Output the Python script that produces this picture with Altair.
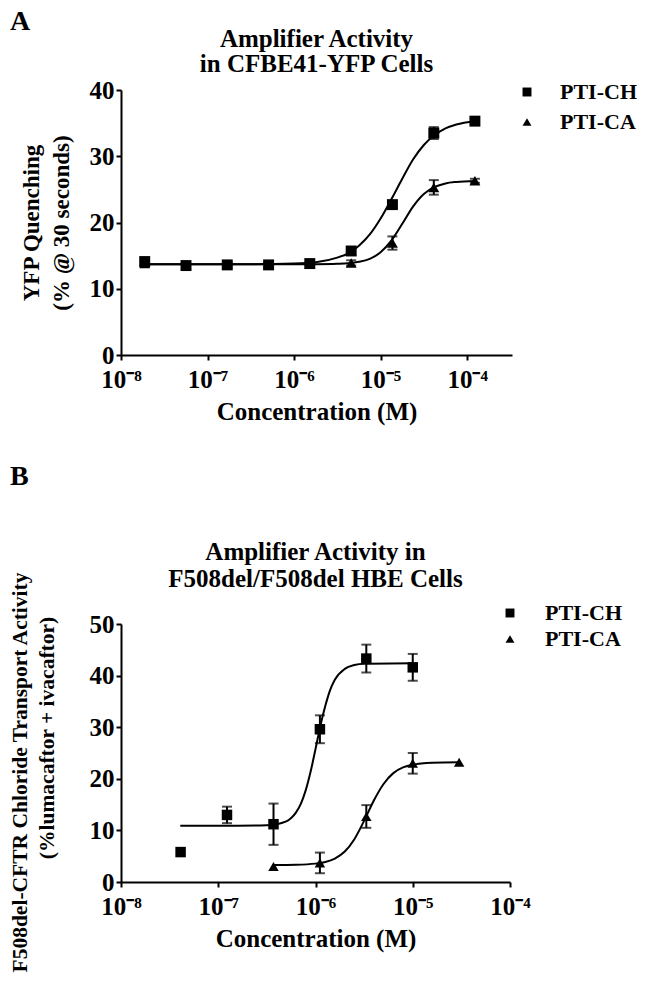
import altair as alt
import pandas as pd

FONT = "Liberation Serif"

series = ["PTI-CH", "PTI-CA"]
shapes = ["square", "triangle-up"]
x_ticks = [1e-8, 1e-7, 1e-6, 1e-5, 1e-4]
x_tick_labels = ["10⁻⁸", "10⁻⁷", "10⁻⁶", "10⁻⁵", "10⁻⁴"]

# ---------------- Panel A (CFBE41-YFP) ----------------
a_conc = [1.88e-8, 5.64e-8, 1.69e-7, 5.08e-7, 1.52e-6, 4.57e-6, 1.37e-5, 4.12e-5, 1.23e-4]
a_ch = [14.1, 13.5, 13.6, 13.6, 13.8, 15.7, 22.7, 33.5, 35.3]
a_ch_err = [0.6, 0.3, 0.3, 0.3, 0.3, 0.6, 0.5, 0.9, 0.4]
a_ca = [13.8, 13.6, 13.7, 13.6, 13.7, 13.9, 16.9, 25.3, 26.3]
a_ca_err = [0.3, 0.3, 0.3, 0.3, 0.3, 0.4, 1.0, 1.1, 0.3]

a_curve_x = [1.86e-8, 1e-7, 3.16e-7, 1e-6, 1.78e-6, 3.16e-6, 4.22e-6, 5.62e-6, 7.5e-6,
             1e-5, 1.33e-5, 1.78e-5, 2.37e-5, 3.16e-5, 4.22e-5, 5.62e-5, 7.5e-5, 1.23e-4]
a_ch_curve = [13.7, 13.7, 13.7, 13.8, 14.0, 14.7, 15.35, 16.5, 18.2,
              20.6, 23.5, 26.6, 29.5, 31.7, 33.2, 34.2, 34.8, 35.3]
a_ca_curve = [13.7, 13.7, 13.7, 13.7, 13.71, 13.77, 13.85, 14.06, 14.52,
              15.5, 17.25, 19.8, 22.4, 24.3, 25.37, 25.9, 26.12, 26.26]

# ---------------- Panel B (HBE) ----------------
b_conc = [4.1e-8, 1.23e-7, 3.7e-7, 1.11e-6, 3.33e-6, 1.0e-5, 3.0e-5]
b_ch = [5.8, 13.0, 11.2, 29.6, 43.3, 41.6]
b_ch_err = [0.0, 1.6, 4.0, 2.7, 2.7, 2.6]
b_ca = [3.0, 3.7, 12.7, 23.0, 23.2]
b_ca_err = [0.0, 2.0, 2.2, 2.0, 0.0]

b_ch_curve_x = [4.07e-8, 1e-7, 3.16e-7, 5.01e-7, 5.62e-7, 6.31e-7, 7.08e-7, 7.94e-7, 8.91e-7,
                1e-6, 1.12e-6, 1.26e-6, 1.41e-6, 1.58e-6, 2.0e-6, 2.51e-6, 3.16e-6, 1e-5]
b_ch_curve = [10.9, 10.9, 11.0, 11.76, 12.4, 13.5, 15.2, 17.8, 21.4,
              25.75, 30.2, 34.1, 37.15, 39.2, 41.3, 42.05, 42.3, 42.4]
b_ca_curve_x = [3.7e-7, 6.31e-7, 1e-6, 1.26e-6, 1.58e-6, 2.0e-6, 2.51e-6, 3.16e-6,
                3.98e-6, 5.01e-6, 6.31e-6, 7.94e-6, 1e-5, 1.58e-5, 3.0e-5]
b_ca_curve = [3.3, 3.35, 3.56, 3.88, 4.55, 5.9, 8.3, 11.85,
              15.8, 19.0, 21.1, 22.2, 22.74, 23.1, 23.2]


def label_expr():
    parts = []
    for t, lab in zip(x_ticks, x_tick_labels):
        parts.append(f"datum.value < {t * 3} ? '{lab}' : ")
    return "".join(parts) + "''"


def points_df(conc, ch, ch_err, ca, ca_err, ca_offset):
    rows = []
    for c, v, e in zip(conc, ch, ch_err):
        rows.append({"conc": c, "val": v, "err": e, "series": "PTI-CH"})
    for c, v, e in zip(conc[ca_offset:], ca, ca_err):
        rows.append({"conc": c, "val": v, "err": e, "series": "PTI-CA"})
    df = pd.DataFrame(rows)
    df["lo"] = df["val"] - df["err"]
    df["hi"] = df["val"] + df["err"]
    return df


def curve_df(ch_x, ch_y, ca_x, ca_y):
    rows = [{"conc": x, "val": y, "series": "PTI-CH"} for x, y in zip(ch_x, ch_y)]
    rows += [{"conc": x, "val": y, "series": "PTI-CA"} for x, y in zip(ca_x, ca_y)]
    return pd.DataFrame(rows)


def text_layer(txt, x, y, size, lh=None, align="left", baseline="top", angle=None):
    kw = dict(font=FONT, fontSize=size, fontWeight="bold", align=align,
              baseline=baseline, color="black")
    if lh is not None:
        kw.update(lineBreak="\n", lineHeight=lh)
    if angle is not None:
        kw.update(angle=angle)
    return alt.Chart(pd.DataFrame({"t": [txt]})).mark_text(**kw).encode(
        text="t:N", x=alt.value(x), y=alt.value(y))


def panel(letter, letter_y, pts, crv, xmax, ymax, w, h, title, title_y, title_lh,
          ytitle, ytitle_size, ytitle_pad, ytitle_lh, ytitle_y, leg_x, leg_y, leg_off,
          leg_row, pt_size, extra=None):
    xscale = alt.Scale(type="log", domain=[1e-8, xmax])
    yscale = alt.Scale(domain=[0, ymax], nice=False, zero=True)
    xaxis = alt.Axis(values=x_ticks, labelExpr=label_expr(), title="Concentration (M)",
                     labelFlush=False, labelOverlap=False, labelPadding=7, titlePadding=7)
    yaxis = alt.Axis(values=list(range(0, ymax + 1, 10)), title=ytitle, labelPadding=2,
                     titleFontSize=ytitle_size, titlePadding=ytitle_pad,
                     titleLineHeight=ytitle_lh, titleY=ytitle_y)
    X = lambda: alt.X("conc:Q", scale=xscale, axis=xaxis)

    lines = alt.Chart(crv).mark_line(color="black", strokeWidth=2, interpolate="monotone").encode(
        x=X(), y=alt.Y("val:Q", scale=yscale, axis=yaxis), detail="series:N")
    eb = pts[pts["err"] > 0]
    rules = alt.Chart(eb).mark_rule(color="black", strokeWidth=2).encode(
        x=X(), y=alt.Y("lo:Q", scale=yscale, axis=yaxis), y2="hi:Q")
    cap_lo = alt.Chart(eb).mark_tick(color="black", thickness=2, size=10, orient="horizontal").encode(
        x=X(), y=alt.Y("lo:Q", scale=yscale, axis=yaxis))
    cap_hi = alt.Chart(eb).mark_tick(color="black", thickness=2, size=10, orient="horizontal").encode(
        x=X(), y=alt.Y("hi:Q", scale=yscale, axis=yaxis))
    points = alt.Chart(pts).mark_point(filled=True, opacity=1, size=pt_size).encode(
        x=X(), y=alt.Y("val:Q", scale=yscale, axis=yaxis),
        color=alt.value("black"),
        shape=alt.Shape("series:N", scale=alt.Scale(domain=series, range=shapes),
                        legend=alt.Legend(title=None, orient="none", legendX=leg_x, legendY=leg_y,
                                          padding=0, labelOffset=leg_off, rowPadding=leg_row,
                                          symbolSize=80, symbolFillColor="black",
                                          symbolStrokeColor="black", symbolStrokeWidth=0,
                                          labelFont=FONT, labelFontSize=22,
                                          labelFontWeight="bold", labelColor="black")))
    lab = text_layer(letter, -111, letter_y, 28)
    ttl = text_layer("\n".join(title), w / 2, title_y, 25, lh=title_lh, align="center")
    layers = [lines, rules, cap_lo, cap_hi, points, lab, ttl]
    if extra is not None:
        layers.append(extra)
    return alt.layer(*layers).properties(width=w, height=h)


pa = panel("A", -82, points_df(a_conc, a_ch, a_ch_err, a_ca, a_ca_err, 0),
           curve_df(a_curve_x, a_ch_curve, a_curve_x, a_ca_curve),
           3.3e-4, 40, 391, 265, ["Amplifier Activity", "in CFBE41-YFP Cells"], -63, 25,
           ["YFP Quenching", "(% @ 30 seconds)"], 23, 16, 30, 132.5,
           395, -9, 22, 8, 120)

b_ytitle2 = text_layer("(%lumacaftor + ivacaftor)", -73, 114, 21.5, align="center",
                       baseline="middle", angle=270)
pb = panel("B", -161, points_df(b_conc, b_ch, b_ch_err, b_ca, b_ca_err, 2),
           curve_df(b_ch_curve_x, b_ch_curve, b_ca_curve_x, b_ca_curve),
           1e-4, 50, 389, 258, ["Amplifier Activity in", "F508del/F508del HBE Cells"], -84, 27,
           "F508del-CFTR Chloride Transport Activity", 21.5, 58, 26, 148,
           378, -22, 24, 4, 110, extra=b_ytitle2)

chart = alt.vconcat(pa, pb, spacing=269, bounds="flush").resolve_scale(
    shape="independent", x="independent", y="independent").resolve_legend(
    shape="independent").properties(padding=0).configure_view(stroke=None).configure_axis(
    domainColor="black", domainWidth=2, tickColor="black", tickWidth=2, tickSize=5,
    labelFont=FONT, labelFontSize=25, labelFontWeight="bold", labelColor="black",
    titleFont=FONT, titleFontSize=25, titleFontWeight="bold", titleColor="black", grid=False)

chart.save("out.html", embed_options={"renderer": "svg", "actions": False})
